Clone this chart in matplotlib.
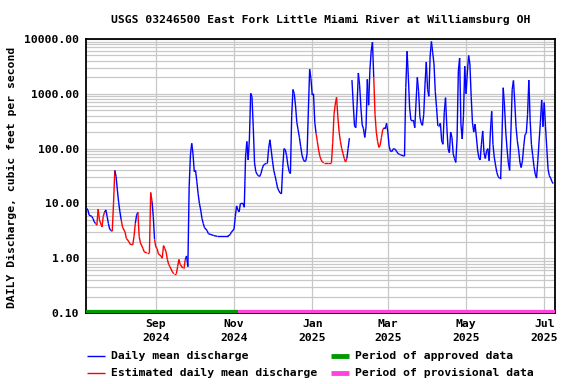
import numpy as np
import matplotlib
matplotlib.use('Agg')
import matplotlib.pyplot as plt
import matplotlib.dates as mdates
from matplotlib.collections import LineCollection
from matplotlib.lines import Line2D
from matplotlib.ticker import LogLocator, FuncFormatter, NullFormatter

plt.rcParams['font.family'] = ['DejaVu Sans Mono']
plt.rcParams['font.weight'] = 'bold'
FS = 8.2

# daily mean discharge (cfs)
jul24_day = [9, 10, 11, 13, 14, 15, 16, 17, 18, 19, 21, 22, 23, 24, 25, 26, 27, 28, 29, 30, 31]
jul24_cfs = [8.1, 7.6, 6.1, 5.8, 5.3, 4.6, 4.3, 4.0, 7.9, 5.0, 3.7, 5.8, 6.9, 7.6, 5.8, 4.3, 3.4, 3.2, 3.1, 10, 40]
aug24_day = [1, 2, 3, 4, 5, 6, 8, 9, 11, 12, 14, 15, 16, 17, 18, 19, 20, 22, 23, 25, 27, 28, 29, 30, 31]
aug24_cfs = [31, 17.5, 10.5, 7.0, 5.0, 3.7, 3.0, 2.3, 2.0, 1.8, 1.75, 2.5, 4.3, 6.1, 6.9, 2.5, 1.9, 1.5, 1.3, 1.25,
             1.25, 15.8, 11, 5.8, 2.2]
sep24_day = [1, 2, 3, 5, 6, 7, 8, 9, 10, 11, 12, 14, 15, 17, 18, 19, 20, 22, 23, 24, 25, 26, 27, 28, 29, 30]
sep24_cfs = [1.6, 1.5, 1.2, 1.1, 1.0, 1.7, 1.5, 1.3, 0.95, 0.77, 0.70, 0.56, 0.52, 0.52, 0.70, 0.95, 0.77, 0.66,
             0.66, 0.95, 1.1, 0.70, 20, 77, 125, 80]
oct24_day = [1, 2, 3, 4, 5, 6, 7, 8, 9, 11, 12, 14, 16, 19, 27, 29, 30]
oct24_cfs = [38, 40, 25, 15, 10, 7.6, 5.3, 4.3, 3.6, 3.2, 2.8, 2.7, 2.6, 2.5, 2.5, 2.7, 3.0]
nov24_day = [1, 2, 3, 4, 5, 6] + list(range(8, 31))
nov24_cfs = [3.4, 5.8, 9.0, 7.6, 7.0, 10, 10, 8.5, 70, 135, 62, 150, 1020, 890, 250, 55, 38, 34, 32, 31,
             35, 43, 50, 52, 54, 54, 100, 145, 94]
dec24_day = list(range(1, 32))
dec24_cfs = [60, 40, 32, 25, 19, 17, 15.5, 15, 45, 100, 95, 75, 50, 38, 35, 400, 1200, 1000, 600, 300,
             220, 160, 110, 77, 64, 58, 60, 80, 500, 2800, 1900]
jan25_day = list(range(1, 11)) + [13, 16] + list(range(17, 32))
jan25_cfs = [950, 1000, 300, 190, 135, 94, 72, 62, 57, 55, 55, 55, 130, 420, 650, 860, 380, 200, 135, 100,
             82, 66, 57, 66, 100, 155, np.nan]
feb25_day = list(range(1, 29))
feb25_cfs = [1780, 650, 260, 240, 620, 2400, 1400, 550, 270, 230, 160, 250, 1840, 620, 2700, 6000, 8800, 2000,
             420, 200, 135, 105, 115, 160, 220, 240, 230, 290]
mar25_day = list(range(1, 32))
mar25_cfs = [200, 110, 90, 88, 97, 100, 95, 88, 81, 79, 77, 75, 74, 73, 1300, 6000, 2000, 550, 330, 320,
             330, 240, 700, 2000, 1100, 380, 290, 265, 420, 1500, 3800]
apr25_day = list(range(1, 31))
apr25_cfs = [1200, 900, 4900, 9000, 5600, 3500, 1100, 560, 260, 260, 290, 138, 120, 450, 850, 250, 100, 84,
             200, 160, 80, 66, 56, 150, 2600, 4500, 280, 150, 400, 3200]
may25_day = list(range(1, 32))
may25_cfs = [1000, 2400, 5000, 3500, 900, 300, 200, 280, 170, 95, 68, 62, 120, 210, 85, 66, 90, 100, 60, 200,
             480, 120, 70, 50, 37, 31, 29, 29, 150, 1290, 600]
jun25_day = list(range(1, 31))
jun25_cfs = [200, 98, 55, 40, 200, 1200, 1750, 700, 250, 140, 95, 57, 45, 60, 110, 180, 190, 420, 1780, 330,
             120, 75, 47, 34, 29, 60, 138, 300, 770, 250]
jul25_day = list(range(1, 9))
jul25_cfs = [690, 250, 100, 42, 32, 29, 25, 23]

# estimated-value periods (red) and approval status
est_start = ['2024-07-17', '2024-07-29', '2024-08-06', '2024-08-19', '2024-09-01', '2025-01-05', '2025-02-19']
est_end = ['2024-07-23', '2024-07-31', '2024-08-16', '2024-08-29', '2024-09-24', '2025-01-28', '2025-02-26']
approved_until = '2024-11-04'
start_date = '2024-07-09'

months = [(2024, 7, jul24_day, jul24_cfs), (2024, 8, aug24_day, aug24_cfs), (2024, 9, sep24_day, sep24_cfs),
          (2024, 10, oct24_day, oct24_cfs), (2024, 11, nov24_day, nov24_cfs), (2024, 12, dec24_day, dec24_cfs),
          (2025, 1, jan25_day, jan25_cfs), (2025, 2, feb25_day, feb25_cfs), (2025, 3, mar25_day, mar25_cfs),
          (2025, 4, apr25_day, apr25_cfs), (2025, 5, may25_day, may25_cfs), (2025, 6, jun25_day, jun25_cfs),
          (2025, 7, jul25_day, jul25_cfs)]

dates, flow = [], []
for yr, mo, days, cfs in months:
    for d, q in zip(days, cfs):
        dates.append(np.datetime64(f'{yr}-{mo:02d}-{d:02d}'))
        flow.append(q)
dates = np.array(dates)
flow = np.array(flow, dtype=float)

est = np.zeros(len(dates), dtype=bool)
for s, e in zip(est_start, est_end):
    est |= (dates >= np.datetime64(s)) & (dates <= np.datetime64(e))

xn = mdates.date2num(dates)
segs = np.stack([np.column_stack([xn[:-1], flow[:-1]]), np.column_stack([xn[1:], flow[1:]])], axis=1)
seg_colors = np.where(est[1:], '#ff0000', '#0000ff')

fig = plt.figure(figsize=(5.76, 3.84), dpi=100)
ax = fig.add_axes([86 / 576, 1 - 313 / 384, 469 / 576, 274 / 384])

ax.set_yscale('log')
ax.set_ylim(0.1, 10000)
x0 = mdates.date2num(np.datetime64(start_date))
ax.set_xlim(x0 - 0.47, x0 + 365.4)

ax.yaxis.set_major_locator(LogLocator(base=10))
ax.yaxis.set_minor_locator(LogLocator(base=10, subs=np.arange(2, 10)))
ax.yaxis.set_major_formatter(FuncFormatter(lambda v, p: f'{v:.2f}'))
ax.yaxis.set_minor_formatter(NullFormatter())
ax.xaxis.set_major_locator(mdates.MonthLocator(bymonth=[1, 3, 5, 7, 9, 11]))
ax.xaxis.set_major_formatter(mdates.DateFormatter('%b\n%Y'))

ax.grid(True, which='both', axis='y', color='#c8c8c8', lw=0.9)
ax.grid(True, which='major', axis='x', color='#c8c8c8', lw=0.9)
ax.set_axisbelow(True)
ax.tick_params(which='both', length=0, labelsize=FS)
ax.tick_params(axis='y', pad=5)
ax.tick_params(axis='x', pad=4.5)
for lab in ax.get_xticklabels() + ax.get_yticklabels():
    lab.set_fontweight('bold')
for lab in ax.get_xticklabels():
    lab.set_linespacing(1.45)
for sp in ax.spines.values():
    sp.set_color('black')
    sp.set_linewidth(1.3)

ax.add_collection(LineCollection(segs, colors=seg_colors, linewidths=1.0, zorder=3))

# approval status bars along the bottom
xa = mdates.date2num(np.datetime64(approved_until))
ax.plot([x0 - 1, xa], [0.1, 0.1], color='#009a00', lw=4.5, solid_capstyle='butt', zorder=4)
ax.plot([xa, x0 + 370], [0.1, 0.1], color='#ff44dd', lw=4.5, solid_capstyle='butt', zorder=4)

fig.text(320.5 / 576, 1 - 20 / 384, 'USGS 03246500 East Fork Little Miami River at Williamsburg OH',
         ha='center', va='center', fontsize=FS, fontweight='bold')
fig.text(12 / 576, 1 - 177 / 384, 'DAILY Discharge, cubic feet per second', rotation=90,
         ha='center', va='center', fontsize=FS, fontweight='bold')

# legend
legend_items = [(87, 356, '#0000ff', 1.0, 'Daily mean discharge'),
                (87, 373, '#ff0000', 1.0, 'Estimated daily mean discharge'),
                (331, 356, '#009a00', 3.5, 'Period of approved data'),
                (331, 373, '#ff44dd', 3.5, 'Period of provisional data')]
for px, py, col, lw, label in legend_items:
    fy = 1 - py / 384
    fig.add_artist(Line2D([px / 576, (px + 18) / 576], [fy, fy], color=col, lw=lw, solid_capstyle='butt'))
    fig.text((px + 24) / 576, fy, label, ha='left', va='center', fontsize=FS, fontweight='bold')

fig.savefig('out.png', dpi=100)
